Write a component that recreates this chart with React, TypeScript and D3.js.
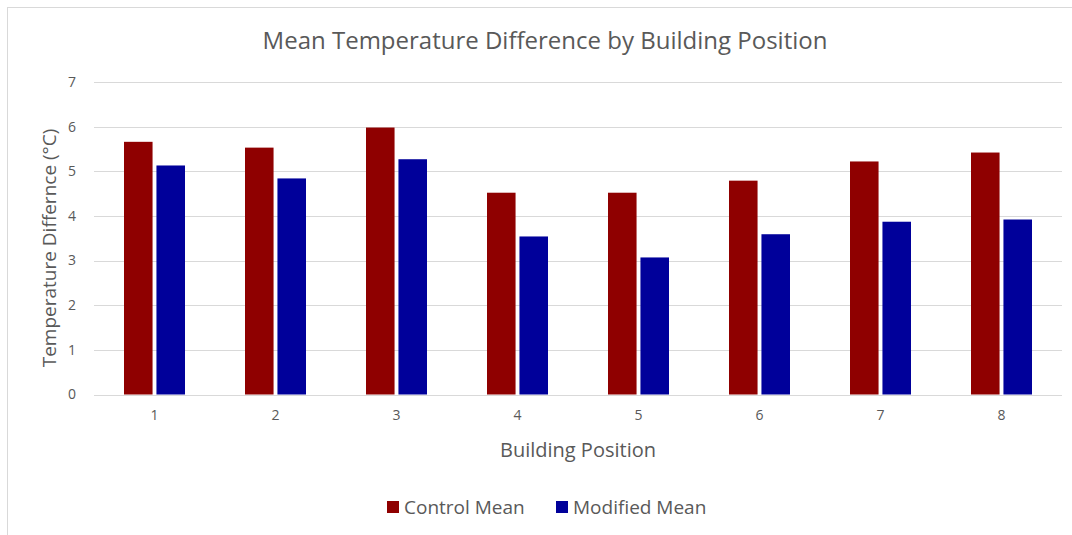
import * as d3 from "d3";
import { useRef, useEffect } from "react";

const positions = ["1", "2", "3", "4", "5", "6", "7", "8"];
const controlMean = [5.66, 5.53, 5.98, 4.52, 4.52, 4.79, 5.22, 5.42];
const modifiedMean = [5.13, 4.84, 5.27, 3.54, 3.07, 3.59, 3.87, 3.92];
const seriesNames = ["Control Mean", "Modified Mean"];
const seriesColors = ["#8f0000", "#00009a"];
const yTicks = [0, 1, 2, 3, 4, 5, 6, 7];

const width = 1072;
const height = 535;
const marginLeft = 94;
const marginRight = 10;
const marginTop = 82;
const plotBottom = 394.5;
const font = "'Open Sans', 'Noto Sans', sans-serif";
const textColor = "#595959";

const App = () => {
  const ref = useRef<SVGSVGElement>(null);

  useEffect(() => {
    if (!ref.current) return;
    const svg = d3.select(ref.current);
    svg.selectAll("*").remove();

    // chart frame
    svg.append("rect")
      .attr("x", 7.5).attr("y", 7.5)
      .attr("width", width + 20).attr("height", height + 20)
      .attr("fill", "#fff").attr("stroke", "#d9d9d9");

    const x = d3.scaleBand()
      .domain(positions)
      .range([marginLeft, width - marginRight]);

    const y = d3.scaleLinear()
      .domain([0, 7])
      .range([plotBottom, marginTop]);

    const xSub = d3.scaleBand()
      .domain(seriesNames)
      .range([0, 61])
      .paddingInner(0.12);

    // gridlines
    svg.append("g")
      .selectAll("line")
      .data(yTicks)
      .enter().append("line")
        .attr("x1", marginLeft).attr("x2", width - marginRight)
        .attr("y1", (d) => Math.round(y(d)) + 0.5)
        .attr("y2", (d) => Math.round(y(d)) + 0.5)
        .attr("stroke", "#d9d9d9")
        .attr("stroke-width", 1);

    // y tick labels
    svg.append("g")
      .selectAll("text")
      .data(yTicks)
      .enter().append("text")
        .attr("x", 76).attr("y", (d) => y(d))
        .attr("dy", "0.35em")
        .attr("text-anchor", "end")
        .attr("font-family", font).attr("font-size", 14)
        .attr("fill", textColor)
        .text((d) => d);

    // bars
    const rows = positions.map((p, i) => ({ pos: p, values: [controlMean[i], modifiedMean[i]] }));
    svg.append("g")
      .selectAll("g")
      .data(rows)
      .enter().append("g")
        .attr("transform", (d) => `translate(${x(d.pos)! + x.bandwidth() / 2 - 30.5},0)`)
      .selectAll("rect")
      .data((d) => d.values.map((v, k) => ({ key: seriesNames[k], value: v, k })))
      .enter().append("rect")
        .attr("x", (d) => xSub(d.key)!)
        .attr("y", (d) => y(d.value))
        .attr("width", xSub.bandwidth())
        .attr("height", (d) => y(0) - y(d.value))
        .attr("fill", (d) => seriesColors[d.k]);

    // x tick labels
    svg.append("g")
      .selectAll("text")
      .data(positions)
      .enter().append("text")
        .attr("x", (d) => x(d)! + x.bandwidth() / 2)
        .attr("y", 420)
        .attr("text-anchor", "middle")
        .attr("font-family", font).attr("font-size", 14)
        .attr("fill", textColor)
        .text((d) => d);

    // title
    svg.append("text")
      .attr("x", 545).attr("y", 49)
      .attr("text-anchor", "middle")
      .attr("font-family", font).attr("font-size", 24)
      .attr("fill", textColor)
      .text("Mean Temperature Difference by Building Position");

    // axis titles
    svg.append("text")
      .attr("x", 578).attr("y", 457)
      .attr("text-anchor", "middle")
      .attr("font-family", font).attr("font-size", 20)
      .attr("fill", textColor)
      .text("Building Position");

    svg.append("text")
      .attr("transform", "translate(56,248) rotate(-90)")
      .attr("text-anchor", "middle")
      .attr("font-family", font).attr("font-size", 19)
      .attr("fill", textColor)
      .text("Temperature Differnce (°C)");

    // legend
    const legendX = [387, 556];
    const legend = svg.append("g")
      .selectAll("g")
      .data(seriesNames)
      .enter().append("g")
        .attr("transform", (d, i) => `translate(${legendX[i]},501)`);
    legend.append("rect")
      .attr("width", 12).attr("height", 12)
      .attr("fill", (d, i) => seriesColors[i]);
    legend.append("text")
      .attr("x", 17).attr("y", 6)
      .attr("dy", "0.35em")
      .attr("font-family", font).attr("font-size", 19)
      .attr("fill", textColor)
      .text((d) => d);
  }, []);

  return (
    <svg ref={ref} width={width} height={height}
      style={{ position: "absolute", left: 0, top: 0, display: "block" }} />
  );
};

export default App;
